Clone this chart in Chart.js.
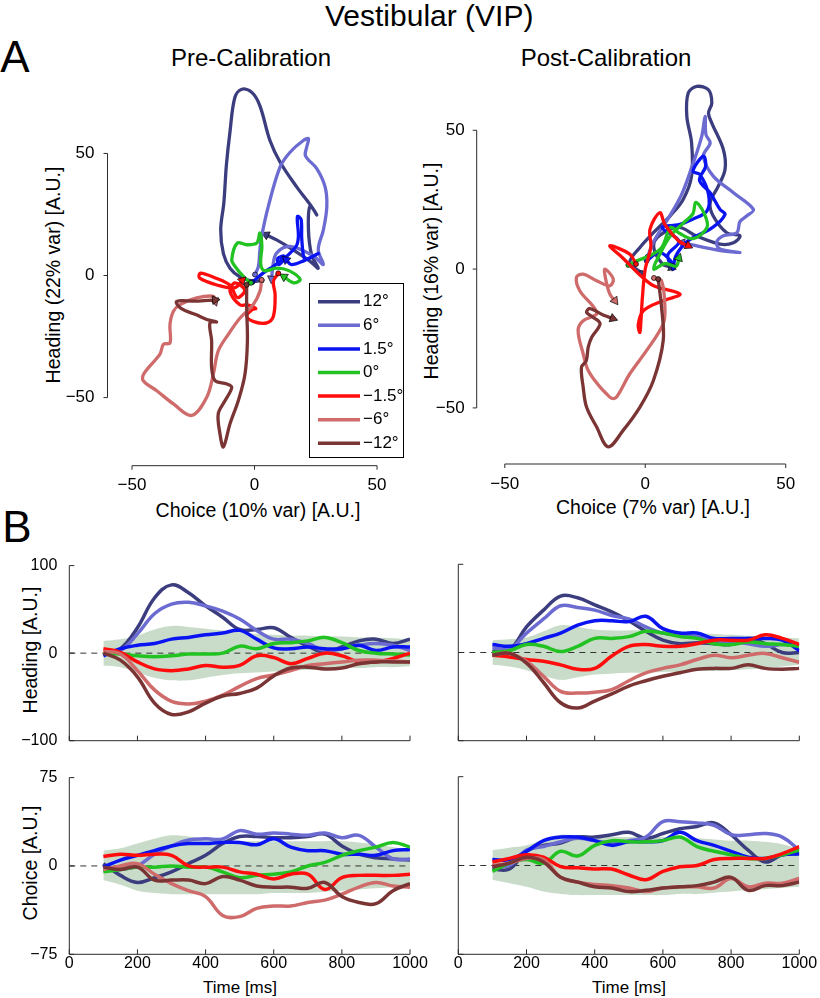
<!DOCTYPE html>
<html>
<head>
<meta charset="utf-8">
<script src="https://cdn.jsdelivr.net/npm/chart.js@4.4.1/dist/chart.umd.min.js"></script>
<style>
body { margin: 0; background: #fff; font-family: "Liberation Sans", Arial, sans-serif; color: #000; }
#fig { position: relative; width: 820px; height: 998px; overflow: hidden; }
canvas { position: absolute; }
.t { position: absolute; white-space: nowrap; line-height: 1; transform: translate(-50%, -50%); }
.rot { transform: translate(-50%, -50%) rotate(-90deg); }
</style>
</head>
<body>
<div id="fig">
  <div class="t" style="left:325px;top:16px;font-size:30px;transform:translate(0,-50%)">Vestibular (VIP)</div>
  <div class="t" style="left:15px;top:57px;font-size:44px">A</div>
  <div class="t" style="left:17px;top:527px;font-size:44px">B</div>
  <div class="t" style="left:251px;top:58px;font-size:24px">Pre-Calibration</div>
  <div class="t" style="left:606px;top:58px;font-size:24px">Post-Calibration</div>
  <div class="t" style="left:258px;top:511px;font-size:19.5px">Choice (10% var) [A.U.]</div>
  <div class="t" style="left:653px;top:508px;font-size:19.5px">Choice (7% var) [A.U.]</div>
  <div class="t rot" style="left:54px;top:275px;font-size:19.5px">Heading (22% var) [A.U.]</div>
  <div class="t rot" style="left:432px;top:271px;font-size:19.5px">Heading (16% var) [A.U.]</div>
  <div class="t rot" style="left:31px;top:650px;font-size:19.5px">Heading [A.U.]</div>
  <div class="t rot" style="left:31px;top:863px;font-size:19.5px">Choice [A.U.]</div>
  <div class="t" style="left:240px;top:987px;font-size:17px">Time [ms]</div>
  <div class="t" style="left:629px;top:987px;font-size:17px">Time [ms]</div>
</div>
<script>
// --- DATA ---
const conditions = ['12°', '6°', '1.5°', '0°', '\u22121.5°', '\u22126°', '\u221212°'];
const colors = ['#3b3d7f', '#6b6bd2', '#0a14f2', '#22c222', '#ff0d0d', '#cf6b6b', '#7a3434'];
const bandColor = '#c9dcc9';

// time axis for panel B (ms)
const times = [100, 150, 200, 250, 300, 350, 400, 450, 500, 550, 600, 650, 700, 750, 800, 850, 900, 950, 1000];

// heading projection, pre-calibration (order = conditions)
const headingPre = [
  [-1, 5, 29, 63, 78, 69, 54, 41, 27, 27, 29, 18, 8, 1, 7, 14, 16, 11, 16],
  [-1, 3, 22, 45, 56, 58, 54, 48, 39, 26, 16, 16, 11, 3, 5, 9, 11, 9, 3],
  [-3, 5, 9, 11, 16, 18, 21, 23, 26, 16, 6, 5, 7, 5, 5, 9, 3, 7, 7],
  [0, -1, -3, -4, -3, -1, -1, 0, 8, 5, 11, 12, 14, 18, 12, 3, 0, -1, -2],
  [5, 1, -10, -18, -20, -18, -14, -16, -14, -3, -5, -12, -6, 0, -3, -10, -10, -6, 0],
  [2, -1, -20, -42, -55, -58, -55, -48, -38, -29, -25, -20, -14, -12, -10, -8, -8, -9, -10],
  [0, -8, -27, -57, -70, -67, -57, -49, -46, -40, -26, -17, -16, -18, -17, -12, -10, -10, -10]
];
const headingPreBandHi = [14, 16, 20, 27, 31, 30, 28, 26, 24, 22, 21, 20, 20, 19, 19, 18, 18, 17, 16];
const headingPreBandLo = [-14, -16, -22, -28, -31, -31, -28, -25, -23, -22, -21, -20, -19, -18, -17, -17, -16, -16, -15];

// heading projection, post-calibration
const headingPost = [
  [1, 3, 29, 48, 64, 62, 54, 46, 36, 24, 14, 10, 11, 10, 9, 16, 10, 0, 0],
  [5, 4, 22, 38, 53, 51, 48, 42, 38, 29, 22, 20, 18, 14, 12, 10, 7, 9, 9],
  [9, 7, 10, 16, 22, 31, 36, 36, 35, 41, 27, 22, 22, 16, 16, 16, 16, 14, 2],
  [0, 2, 9, 7, 1, 7, 16, 16, 18, 24, 22, 18, 16, 10, 9, 12, 10, 9, 7],
  [-3, -5, -8, -10, -14, -19, -18, -4, 7, 9, 7, 7, 10, 14, 14, 14, 20, 16, 9],
  [-3, -1, -10, -27, -44, -46, -45, -42, -32, -23, -18, -14, -8, -3, -6, -3, -1, -6, -11],
  [-3, -1, -12, -34, -57, -63, -55, -47, -38, -32, -27, -23, -19, -18, -18, -14, -18, -19, -18]
];
const headingPostBandHi = [14, 15, 17, 24, 31, 29, 26, 25, 25, 25, 24, 23, 22, 21, 20, 19, 18, 17, 16];
const headingPostBandLo = [-14, -16, -20, -26, -31, -28, -25, -24, -23, -23, -22, -22, -21, -21, -20, -19, -18, -16, -14];

// choice projection, pre-calibration
const choicePre = [
  [2, -8, -14, -10, -5, 2, 9, 19, 25, 25, 24, 24, 25, 27, 17, 10, 7, 6, 5],
  [-4, -3, 0, 10, 17, 22, 23, 23, 30, 27, 28, 27, 26, 28, 24, 26, 16, 6, 6],
  [-1, 5, 9, 13, 17, 19, 19, 20, 20, 18, 23, 16, 13, 13, 10, 10, 9, 13, 14],
  [-5, -3, -1, -1, 0, -1, -1, -5, -10, -8, -7, -5, 0, 3, 9, 13, 16, 20, 16],
  [8, 10, 9, 10, 9, 0, -1, -1, -5, -7, -11, -7, -7, -20, -10, -8, -8, -8, -7],
  [-3, 0, 2, -7, -15, -21, -26, -42, -43, -36, -34, -34, -31, -29, -24, -18, -14, -17, -18],
  [-1, -3, -1, -12, -12, -12, -15, -9, -12, -17, -18, -18, -19, -14, -26, -31, -32, -21, -15]
];
const choicePreBandHi = [13, 15, 19, 23, 26, 25, 23, 22, 21, 21, 21, 21, 21, 21, 21, 20, 18, 16, 13];
const choicePreBandLo = [-12, -16, -21, -23, -24, -24, -24, -24, -24, -24, -23, -23, -23, -22, -21, -20, -19, -18, -18];

// choice projection, post-calibration
const choicePost = [
  [-3, -3, 12, 17, 19, 24, 24, 26, 28, 23, 27, 31, 33, 36, 26, 13, 3, 9, 10],
  [0, 0, 13, 16, 20, 23, 21, 19, 21, 24, 37, 37, 36, 34, 26, 26, 27, 24, 13],
  [5, 5, 12, 21, 24, 24, 21, 17, 20, 20, 21, 28, 21, 17, 12, 7, 6, 9, 10],
  [-5, 2, 5, 2, 12, 8, 17, 21, 20, 20, 21, 24, 16, 12, 9, 6, 6, 9, 13],
  [3, 6, 9, 7, -1, -2, -3, -3, -8, -12, -5, -1, 0, 5, 6, 6, 6, 10, 16],
  [0, 2, 6, 5, -10, -14, -16, -17, -19, -22, -19, -18, -18, -19, -11, -18, -15, -15, -11],
  [-1, 2, 7, 3, -10, -14, -18, -19, -22, -21, -19, -18, -17, -14, -10, -21, -17, -17, -14]
];
const choicePostBandHi = [13, 15, 17, 22, 26, 25, 24, 24, 24, 24, 24, 23, 23, 22, 21, 21, 20, 18, 14];
const choicePostBandLo = [-12, -15, -18, -22, -24, -25, -25, -25, -25, -25, -25, -24, -24, -23, -22, -21, -20, -19, -18];

// state-space trajectories [choice, heading], panel A
const trajPre = [
  [[2.9, -2], [-0.5, -2.4], [-6, -0.5], [-10, 3], [-12.7, 9], [-13.8, 18.7], [-12.5, 30], [-11.5, 45], [-10, 59], [-8, 73], [-5.2, 76.3], [-1.1, 75], [2.2, 69.5], [6.3, 55.3], [10.4, 46.5], [17.2, 36.3], [23.3, 28.2], [25.4, 24.8], [22.7, 28.5], [22, 19], [23.3, 8.4], [26, 3], [22.7, 5.8], [14.5, 11.3], [9, 14.6], [4.7, 16.7]],
  [[0.2, 0.4], [1.6, 3.8], [2.2, 10.6], [2.9, 16], [5.6, 28.2], [10.4, 44.4], [14.5, 50.5], [19.9, 55.3], [22, 56], [21.3, 52.6], [20.8, 49], [25.4, 43.8], [28.8, 36.3], [29.5, 28.2], [28.1, 18.7], [26, 10.6], [28.1, 4.5], [24, 8], [14.5, 11.9], [9, 9.2], [7.5, 4], [7, -1.3]],
  [[-0.9, -2.7], [3.6, 1.1], [7.7, 3.8], [10.4, 5.8], [12, 8], [9.5, 7], [10, 4.5], [13.1, 7.8], [17, 12], [17.9, 16], [17.5, 24.1], [19, 23], [19.3, 14.6], [20.6, 6.5], [24, 8], [26, 9], [20, 6], [15, 4.5], [12.9, 6.5]],
  [[-1.5, -3], [-4, -1], [-8, 3.8], [-9.3, 6.5], [-7, 13.3], [-3.2, 12.6], [0.9, 13.3], [2.2, 17.4], [3, 12], [2.5, 5], [4, 2], [9, 3], [14, 2], [18.6, -1.6], [16, -3], [12, -0.5]],
  [[9.7, 0.9], [7.7, -2.4], [8.4, -7.8], [7.7, -16.7], [5, -19.4], [0, -19], [-3.2, -16.7], [-1, -14], [0.5, -13.5], [-3, -12], [-6, -12], [-10, -6.5], [-8, -3], [-4, -6], [-7, -9], [-10, -4], [-16, -1], [-22, 1], [-22.5, -1], [-15, -4], [-8, -5], [-5, -2]],
  [[2.9, -1.8], [2.2, -6.5], [-0.5, -11.9], [-5.9, -17.4], [-10.7, -24.1], [-14.8, -30.9], [-16.8, -40.4], [-19.5, -49.9], [-25.6, -57.3], [-33.1, -52.6], [-39.9, -47.2], [-45.4, -43.1], [-45, -40], [-38.6, -32.2], [-37.2, -28.2], [-34.5, -27.6], [-34.5, -20], [-33.1, -14.6], [-30.4, -11.9], [-23.6, -9.2], [-16.8, -8.5], [-16.1, -10.6]],
  [[-3.2, -3.8], [-3.2, -13.3], [-2.9, -26.8], [-3.9, -40.4], [-6.6, -51.2], [-10, -60.7], [-12.7, -70.2], [-14.1, -64.8], [-14.8, -56.6], [-12, -51.2], [-9.3, -45.8], [-11.3, -44.4], [-16.1, -43.1], [-17.5, -37.7], [-17.5, -26.8], [-18.2, -19.4], [-15.5, -19], [-19.5, -18], [-24, -16], [-30, -13.5], [-31.8, -10.6], [-24, -10.5], [-16.1, -10]]
];
const trajPost = [
  [[-1.3, -1.4], [-5.5, 2.4], [-1.9, 7.8], [2.9, 13.1], [8.8, 19.1], [13.5, 25.1], [16.5, 33.5], [16.5, 45.4], [14.8, 55], [15.3, 63.4], [18.3, 65.8], [22.5, 64.6], [23.7, 59.8], [22.5, 56.2], [23.7, 52.6], [27.8, 43.1], [28.4, 35.9], [26, 29.9], [23.1, 23.9], [24.2, 19.1], [29, 13.1], [33.7, 12], [31.4, 9.5], [26.6, 9], [18, 12], [12, 15], [5, 12], [3, 8], [6, 2], [9.4, 0.6]],
  [[0.8, 4.4], [3, 10], [8, 18], [13, 27], [17.1, 38.3], [20.1, 47.8], [21.3, 55], [21.6, 48.5], [23.1, 45.4], [20.7, 40.7], [24.2, 33.5], [31.4, 27.5], [38.5, 21.5], [36.1, 19.1], [33.7, 17.1], [32.6, 13.1], [27.8, 12], [25.4, 9.6], [26.6, 7.2], [33.7, 6], [28, 6.5], [20, 8], [13, 9.5]],
  [[0.5, 3], [5, 6], [9, 3], [10, 0], [8, 5], [12, 10], [6, 15], [12, 16], [17, 18], [22, 21], [22.5, 27], [19.5, 34], [17, 35.3], [20.7, 40.7], [21.5, 37], [19.3, 32], [23.1, 27.5], [26.6, 21.5], [28.4, 19.7], [24, 15], [15, 10], [11, 5], [10, 1]],
  [[-6, 1.5], [-3, 3], [2, 5], [6, 8], [9, 15], [12, 13], [17, 11], [22, 15], [21, 20], [18, 24], [17, 20], [14, 17], [9, 12], [5, 5], [3, 0], [7, 2], [11, 1], [12, 4]],
  [[-3.3, 1.8], [-5.5, 5.4], [-12.6, 8.4], [-8, 4], [-2, -2], [3, -6], [12.4, -9], [6, -11.5], [-0.7, -15], [-2.5, -20], [-1.9, -22.8], [-1.5, -18], [-1, -10], [0, 0], [2, 8], [1.7, 14.4], [5.2, 20.3], [7, 16], [12, 10], [15.3, 8.4]],
  [[3.1, -3.2], [5.8, -4.2], [7, -13.8], [6.4, -19.7], [0.5, -29.3], [-5.5, -37.7], [-10.2, -46.1], [-12, -46.5], [-13.8, -44.9], [-16.1, -42.5], [-20.3, -36.5], [-22.1, -30.5], [-23.9, -22.1], [-22.1, -18.6], [-17.3, -16.2], [-18.5, -13.5], [-23.3, -7.8], [-24.5, -3], [-22.1, -1.8], [-17.3, -4.2], [-12.6, -6], [-11.4, -3.5], [-14.4, 0], [-14, -4], [-12.6, -9], [-10.8, -11.4]],
  [[4.6, -3.6], [5.8, -13.8], [6.4, -25.7], [2.9, -40.1], [-1.9, -49.7], [-7.8, -58], [-13.2, -64], [-17.3, -56.9], [-20.9, -49.7], [-22.1, -42.5], [-22.7, -35.3], [-21, -33], [-20.3, -28.1], [-19.1, -24.6], [-16.1, -19.7], [-18.5, -17.4], [-20.9, -15.6], [-19.7, -14.2], [-15, -16.5], [-11.5, -17.8]]
];

const ticksA = [-50, 0, 50];
const ticksTime = [0, 200, 400, 600, 800, 1000];
const ticksHeading = [-100, 0, 100];
const ticksChoice = [-75, 0, 75];

// --- PLUGINS ---
// matlab style axis lines: drawn from first to last tick, ticks in or out
const matlabAxes = {
  id: 'matlabAxes',
  afterDraw(chart, args, opts) {
    const { ctx, chartArea: a, scales: { x, y } } = chart;
    const dir = opts.dir === 'out' ? 1 : -1;
    const len = opts.len || 4;
    const xs = x.ticks.map(t => x.getPixelForValue(t.value));
    const ys = y.ticks.map(t => y.getPixelForValue(t.value));
    const by = a.bottom, lx = a.left;
    ctx.save();
    ctx.strokeStyle = '#2b2b2b';
    ctx.lineWidth = 1;
    ctx.beginPath();
    ctx.moveTo(xs[0], by); ctx.lineTo(xs[xs.length - 1], by);
    xs.forEach(p => { ctx.moveTo(p, by); ctx.lineTo(p, by + dir * len); });
    ctx.moveTo(lx, ys[0]); ctx.lineTo(lx, ys[ys.length - 1]);
    ys.forEach(p => { ctx.moveTo(lx, p); ctx.lineTo(lx - dir * len, p); });
    ctx.stroke();
    ctx.restore();
  }
};

// boxed legend sitting in the lower right corner of the plot
const boxLegend = {
  id: 'boxLegend',
  afterDraw(chart, args, opts) {
    if (!opts.show) return;
    const { ctx, chartArea: a } = chart;
    const left = a.right - opts.w, top = a.bottom - opts.up;
    ctx.save();
    ctx.fillStyle = '#fff';
    ctx.fillRect(left, top, opts.w, opts.h);
    ctx.strokeStyle = '#000';
    ctx.lineWidth = 1;
    ctx.strokeRect(left + 0.5, top + 0.5, opts.w - 1, opts.h - 1);
    ctx.font = '17px "Liberation Sans", Arial, sans-serif';
    ctx.textBaseline = 'middle';
    conditions.forEach((lab, i) => {
      const yy = top + 18.7 + i * 23.6;
      ctx.strokeStyle = colors[i];
      ctx.lineWidth = 3.5;
      ctx.beginPath(); ctx.moveTo(left + 9, yy); ctx.lineTo(left + 51, yy); ctx.stroke();
      ctx.fillStyle = '#000';
      ctx.fillText(lab, left + 54, yy);
    });
    ctx.restore();
  }
};

Chart.register(matlabAxes, boxLegend);
Chart.defaults.font.family = '"Liberation Sans", Arial, sans-serif';
Chart.defaults.color = '#000';

// --- HELPERS ---
const fmt = v => String(v).replace('-', '\u2212');
const ts = vals => vals.map((v, i) => ({ x: times[i], y: v }));

function trajSets(list) {
  return list.map((pairs, i) => {
    const data = pairs.map(p => ({ x: p[0], y: p[1] }));
    const n = data.length;
    const a = data[n - 2], b = data[n - 1];
    const rot = Math.atan2(b.x - a.x, b.y - a.y) * 180 / Math.PI;
    return {
      label: conditions[i], data, showLine: true, order: 10 - i,
      borderColor: colors[i], borderWidth: 3.3, tension: 0.35,
      pointRadius: data.map((d, k) => k === 0 ? 2.5 : (k === n - 1 ? 5 : 0)),
      pointStyle: data.map((d, k) => k === n - 1 ? 'triangle' : 'circle'),
      pointRotation: data.map((d, k) => k === n - 1 ? rot : 0),
      pointBackgroundColor: colors[i], pointBorderColor: '#000', pointBorderWidth: 0.7
    };
  });
}

function timeSets(series, hi, lo) {
  const sets = [
    { data: ts(hi), showLine: true, fill: '+1', backgroundColor: bandColor, borderColor: 'rgba(0,0,0,0)', borderWidth: 0, pointRadius: 0, tension: 0.4, order: 30 },
    { data: ts(lo), showLine: true, fill: false, borderColor: 'rgba(0,0,0,0)', borderWidth: 0, pointRadius: 0, tension: 0.4, order: 29 },
    { data: [{ x: 0, y: 0 }, { x: 1000, y: 0 }], showLine: true, borderColor: '#333', borderWidth: 1, borderDash: [6, 5], pointRadius: 0, order: 20 }
  ];
  series.forEach((vals, i) => sets.push({
    label: conditions[i], data: ts(vals), showLine: true, order: 10 - i,
    borderColor: colors[i], borderWidth: 3.5, pointRadius: 0, tension: 0.4
  }));
  return sets;
}

function makePanel(area, o) {
  const wy = 50, hx = 30;
  const cl = Math.floor(area.l) - 60, ct = Math.floor(area.t) - 12;
  const cr = Math.ceil(area.r) + 30, cb = Math.ceil(area.b) + 34;
  const cv = document.createElement('canvas');
  cv.width = cr - cl; cv.height = cb - ct;
  cv.style.left = cl + 'px'; cv.style.top = ct + 'px';
  cv.style.width = cv.width + 'px'; cv.style.height = cv.height + 'px';
  document.getElementById('fig').appendChild(cv);
  return new Chart(cv, {
    type: 'scatter',
    data: { datasets: o.datasets },
    options: {
      responsive: false, animation: false, events: [],
      layout: { autoPadding: false, padding: { left: area.l - cl - wy, top: area.t - ct, right: cr - area.r, bottom: cb - area.b - hx } },
      plugins: {
        legend: { display: false }, tooltip: { enabled: false },
        matlabAxes: { dir: o.dir, len: o.len },
        boxLegend: o.legend || { show: false }
      },
      scales: {
        x: {
          type: 'linear', min: o.x[0], max: o.x[1],
          grid: { display: false }, border: { display: false },
          ticks: { display: o.xLabels, padding: o.xPad, font: { size: o.fs }, callback: fmt, maxRotation: 0, autoSkip: false },
          afterBuildTicks: s => { s.ticks = o.xTicks.map(v => ({ value: v })); },
          afterFit: s => { s.height = hx; }
        },
        y: {
          type: 'linear', min: o.y[0], max: o.y[1],
          grid: { display: false }, border: { display: false },
          ticks: { display: o.yLabels, padding: o.yPad, font: { size: o.fs }, callback: fmt, autoSkip: false },
          afterBuildTicks: s => { s.ticks = o.yTicks.map(v => ({ value: v })); },
          afterFit: s => { s.width = wy; }
        }
      }
    }
  });
}

// --- PANELS ---
// A: state-space trajectories
makePanel({ l: 107.5, t: 77.2, r: 404, b: 465.7 }, {
  datasets: trajSets(trajPre), x: [-60, 61], y: [-77.9, 80], xTicks: ticksA, yTicks: ticksA,
  xLabels: true, yLabels: true, xPad: 1, yPad: 5, fs: 17, dir: 'out', len: 4,
  legend: { show: true, w: 95, h: 175, up: 182.7 }
});
makePanel({ l: 476.7, t: 67.7, r: 813.8, b: 464 }, {
  datasets: trajSets(trajPost), x: [-60, 60], y: [-70.2, 72], xTicks: ticksA, yTicks: ticksA,
  xLabels: true, yLabels: true, xPad: 2.5, yPad: 4, fs: 17, dir: 'out', len: 4
});

// B: projections over time
makePanel({ l: 69.3, t: 564.3, r: 410, b: 740.7 }, {
  datasets: timeSets(headingPre, headingPreBandHi, headingPreBandLo), x: [0, 1000], y: [-100, 100],
  xTicks: ticksTime, yTicks: ticksHeading, xLabels: false, yLabels: true, xPad: 0, yPad: 4, fs: 16, dir: 'in', len: 5
});
makePanel({ l: 458.3, t: 564.3, r: 799.3, b: 740.7 }, {
  datasets: timeSets(headingPost, headingPostBandHi, headingPostBandLo), x: [0, 1000], y: [-100, 100],
  xTicks: ticksTime, yTicks: ticksHeading, xLabels: false, yLabels: false, xPad: 0, yPad: 4, fs: 16, dir: 'in', len: 5
});
makePanel({ l: 69.3, t: 776.7, r: 410, b: 954.3 }, {
  datasets: timeSets(choicePre, choicePreBandHi, choicePreBandLo), x: [0, 1000], y: [-75, 75],
  xTicks: ticksTime, yTicks: ticksChoice, xLabels: true, yLabels: true, xPad: -8.5, yPad: 4, fs: 16, dir: 'in', len: 5
});
makePanel({ l: 458.3, t: 776.7, r: 799.3, b: 954.3 }, {
  datasets: timeSets(choicePost, choicePostBandHi, choicePostBandLo), x: [0, 1000], y: [-75, 75],
  xTicks: ticksTime, yTicks: ticksChoice, xLabels: true, yLabels: false, xPad: -8.5, yPad: 4, fs: 16, dir: 'in', len: 5
});
</script>
</body>
</html>
